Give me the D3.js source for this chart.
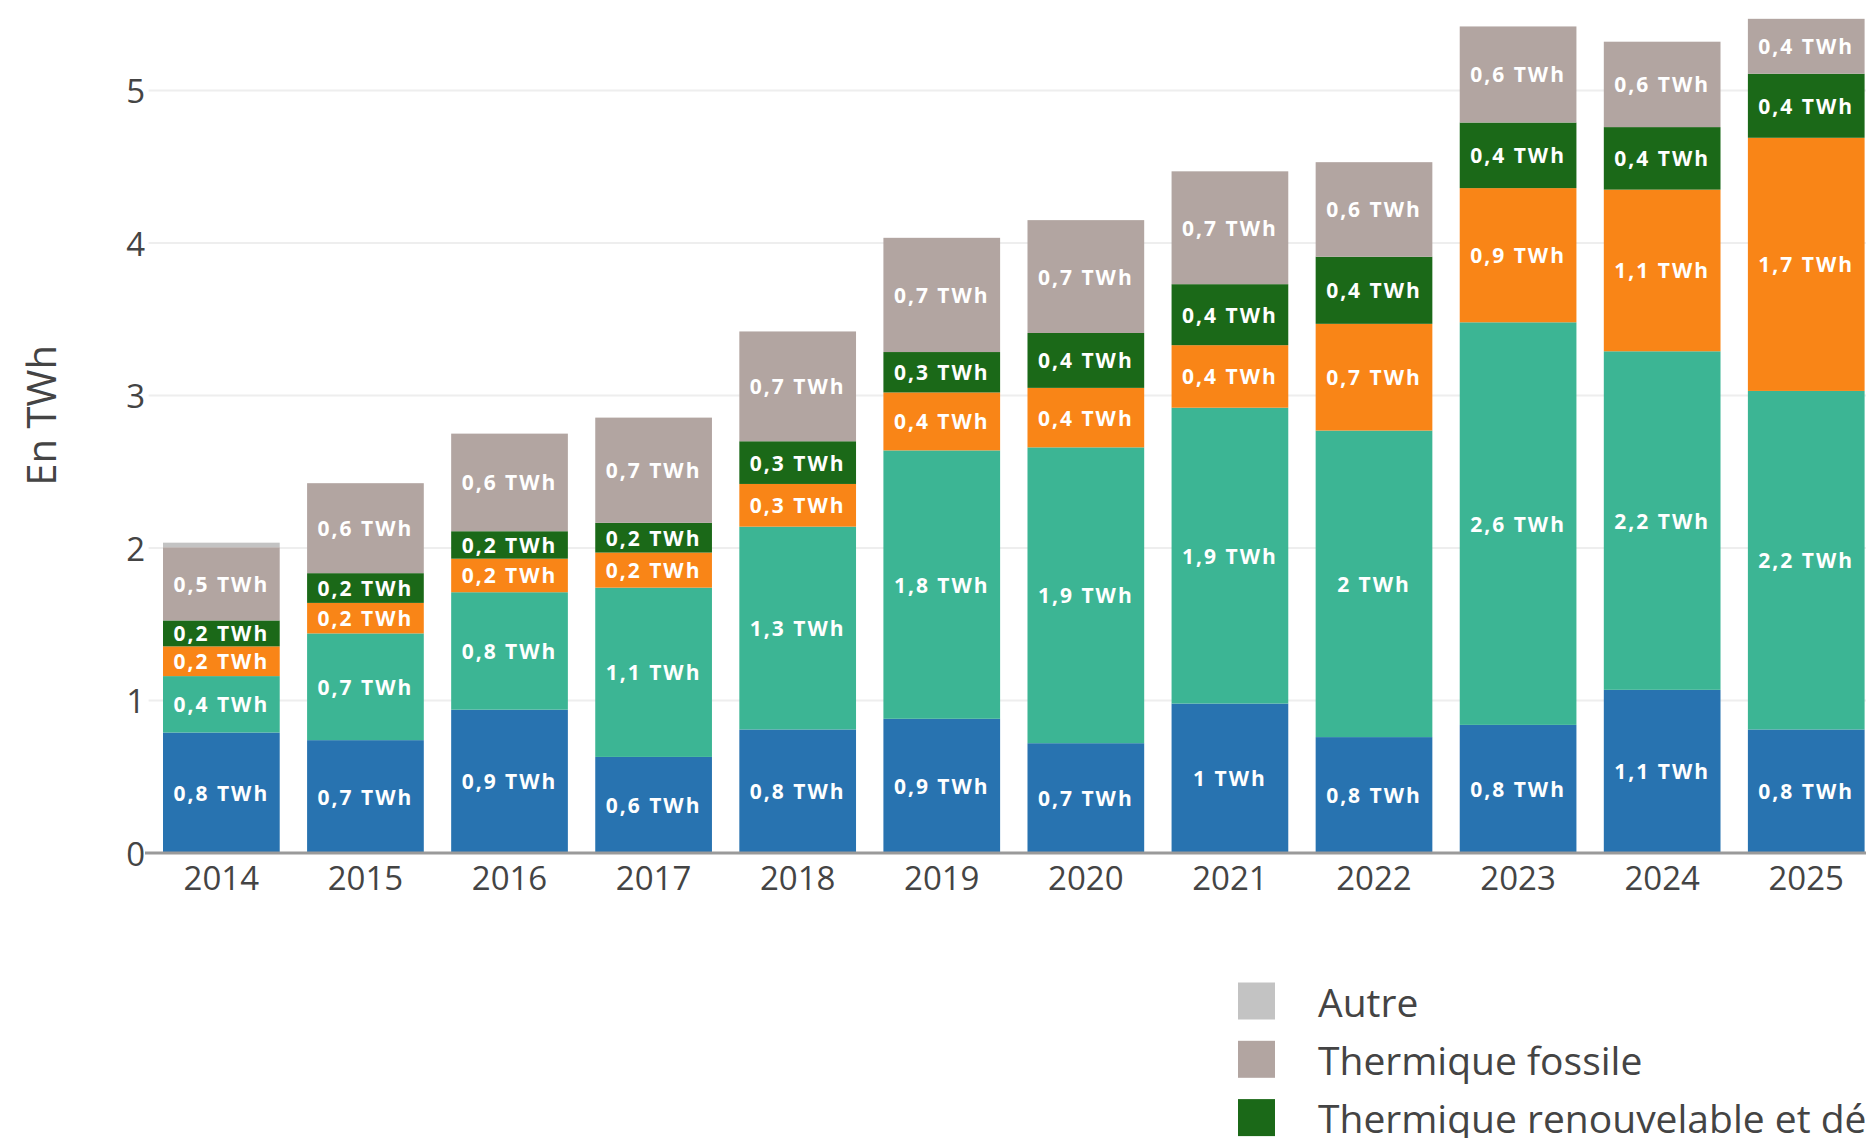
<!DOCTYPE html>
<html lang="fr">
<head>
    <meta charset="UTF-8">
    <title>Production en TWh</title>
    <script src="https://d3js.org/d3.v7.min.js"></script>
    <style>
        body { margin: 0; background: #fff; overflow: hidden; }
        svg { display: block; font-family: "Open Sans", sans-serif; }
        .tick-label { fill: #444; font-size: 33px; }
        .bar-label { fill: #fff; font-size: 21px; font-weight: 700; letter-spacing: 2px; }
        .legend-label { fill: #444; font-size: 39px; }
    </style>
</head>
<body>
</body>
<script>
    const width = 1866;
    const height = 1138;

    // données (TWh)
    const years = ["2014", "2015", "2016", "2017", "2018", "2019", "2020", "2021", "2022", "2023", "2024", "2025"];
    const hydraulique = [0.79, 0.74, 0.94, 0.63, 0.81, 0.88, 0.72, 0.98, 0.76, 0.84, 1.07, 0.81];
    const eolien = [0.37, 0.70, 0.77, 1.11, 1.33, 1.76, 1.94, 1.94, 2.01, 2.64, 2.22, 2.22];
    const solaire = [0.195, 0.20, 0.22, 0.23, 0.28, 0.38, 0.39, 0.41, 0.70, 0.88, 1.06, 1.66];
    const thermiqueRenouv = [0.17, 0.195, 0.18, 0.195, 0.28, 0.265, 0.36, 0.40, 0.44, 0.43, 0.41, 0.42];
    const thermiqueFossile = [0.48, 0.59, 0.64, 0.69, 0.72, 0.749, 0.74, 0.74, 0.62, 0.63, 0.56, 0.36];
    const autre = [0.03, 0, 0, 0, 0, 0, 0, 0, 0, 0, 0, 0];
    const yTicks = [0, 1, 2, 3, 4, 5];

    // séries dans l'ordre d'empilement (bas -> haut)
    const series = [
        {key: "hydraulique", name: "Hydraulique", color: "#2873b0", values: hydraulique},
        {key: "eolien", name: "Éolien", color: "#3cb594", values: eolien},
        {key: "solaire", name: "Solaire", color: "#f98517", values: solaire},
        {key: "thermRenouv", name: "Thermique renouvelable et déchets", color: "#1b6918", values: thermiqueRenouv},
        {key: "thermFossile", name: "Thermique fossile", color: "#b2a5a1", values: thermiqueFossile},
        {key: "autre", name: "Autre", color: "#c3c3c3", values: autre}
    ];

    const table = years.map((y, i) => {
        const row = {year: y};
        series.forEach(s => row[s.key] = s.values[i]);
        return row;
    });
    const stacked = d3.stack().keys(series.map(s => s.key))(table);

    const x0 = 148.6, step = 144.2;
    const x = d3.scaleBand()
        .domain(years)
        .range([x0, x0 + step * 12])
        .paddingInner(0.19)
        .paddingOuter(0.1);

    const yMax = 5.74;
    const y = d3.scaleLinear()
        .domain([0, yMax])
        .range([853, 853 - yMax * 152.5]);

    const svg = d3.select("body").append("svg")
        .attr("width", width)
        .attr("height", height);

    // grille
    svg.append("g").selectAll("line")
        .data(yTicks.filter(d => d > 0))
        .enter().append("line")
        .attr("x1", x0).attr("x2", width)
        .attr("y1", d => y(d)).attr("y2", d => y(d))
        .attr("stroke", "#eeeeee")
        .attr("stroke-width", 2);

    // barres empilées
    const layers = svg.append("g").selectAll("g")
        .data(stacked)
        .enter().append("g")
        .attr("fill", (d, i) => series[i].color);

    layers.selectAll("rect")
        .data(d => d)
        .enter().append("rect")
        .attr("x", d => x(d.data.year))
        .attr("y", d => y(d[1]))
        .attr("width", x.bandwidth())
        .attr("height", d => Math.max(0, y(d[0]) - y(d[1])));

    // étiquettes dans les barres
    const fmt = v => (Math.round(v * 10) / 10).toString().replace(".", ",") + " TWh";
    layers.selectAll("text")
        .data(d => d.filter(p => p[1] - p[0] >= 0.1))
        .enter().append("text")
        .attr("class", "bar-label")
        .attr("x", d => x(d.data.year) + x.bandwidth() / 2)
        .attr("y", d => y((d[0] + d[1]) / 2))
        .attr("text-anchor", "middle")
        .attr("dominant-baseline", "central")
        .text(d => fmt(d[1] - d[0]));

    // axe des x
    svg.append("line")
        .attr("x1", 145).attr("x2", width)
        .attr("y1", y(0)).attr("y2", y(0))
        .attr("stroke", "#9a9a9a")
        .attr("stroke-width", 3);

    svg.append("g").selectAll("text")
        .data(years)
        .enter().append("text")
        .attr("class", "tick-label")
        .attr("x", d => x(d) + x.bandwidth() / 2)
        .attr("y", 877)
        .attr("text-anchor", "middle")
        .attr("dominant-baseline", "central")
        .text(d => d);

    // axe des y
    svg.append("g").selectAll("text")
        .data(yTicks)
        .enter().append("text")
        .attr("class", "tick-label")
        .attr("x", 145)
        .attr("y", d => y(d))
        .attr("text-anchor", "end")
        .attr("dominant-baseline", "central")
        .text(d => d);

    svg.append("text")
        .attr("class", "tick-label")
        .attr("transform", "translate(40," + (y(0) + y(yMax)) / 2 + ") rotate(-90)")
        .attr("text-anchor", "middle")
        .attr("dominant-baseline", "central")
        .style("font-size", "40px")
        .text("En TWh");

    // légende (ordre inversé) : seules les trois premières entrées tiennent dans le cadre
    const legend = svg.append("g").selectAll("g")
        .data(series.slice().reverse().slice(0, 3))
        .enter().append("g")
        .attr("transform", (d, i) => "translate(1238," + (1001 + i * 58.3) + ")");

    legend.append("rect")
        .attr("x", 0).attr("y", -18.5)
        .attr("width", 37).attr("height", 37)
        .attr("fill", d => d.color);

    legend.append("text")
        .attr("class", "legend-label")
        .attr("x", 80)
        .attr("y", 0)
        .attr("dominant-baseline", "central")
        .text(d => d.name);
</script>
</html>
